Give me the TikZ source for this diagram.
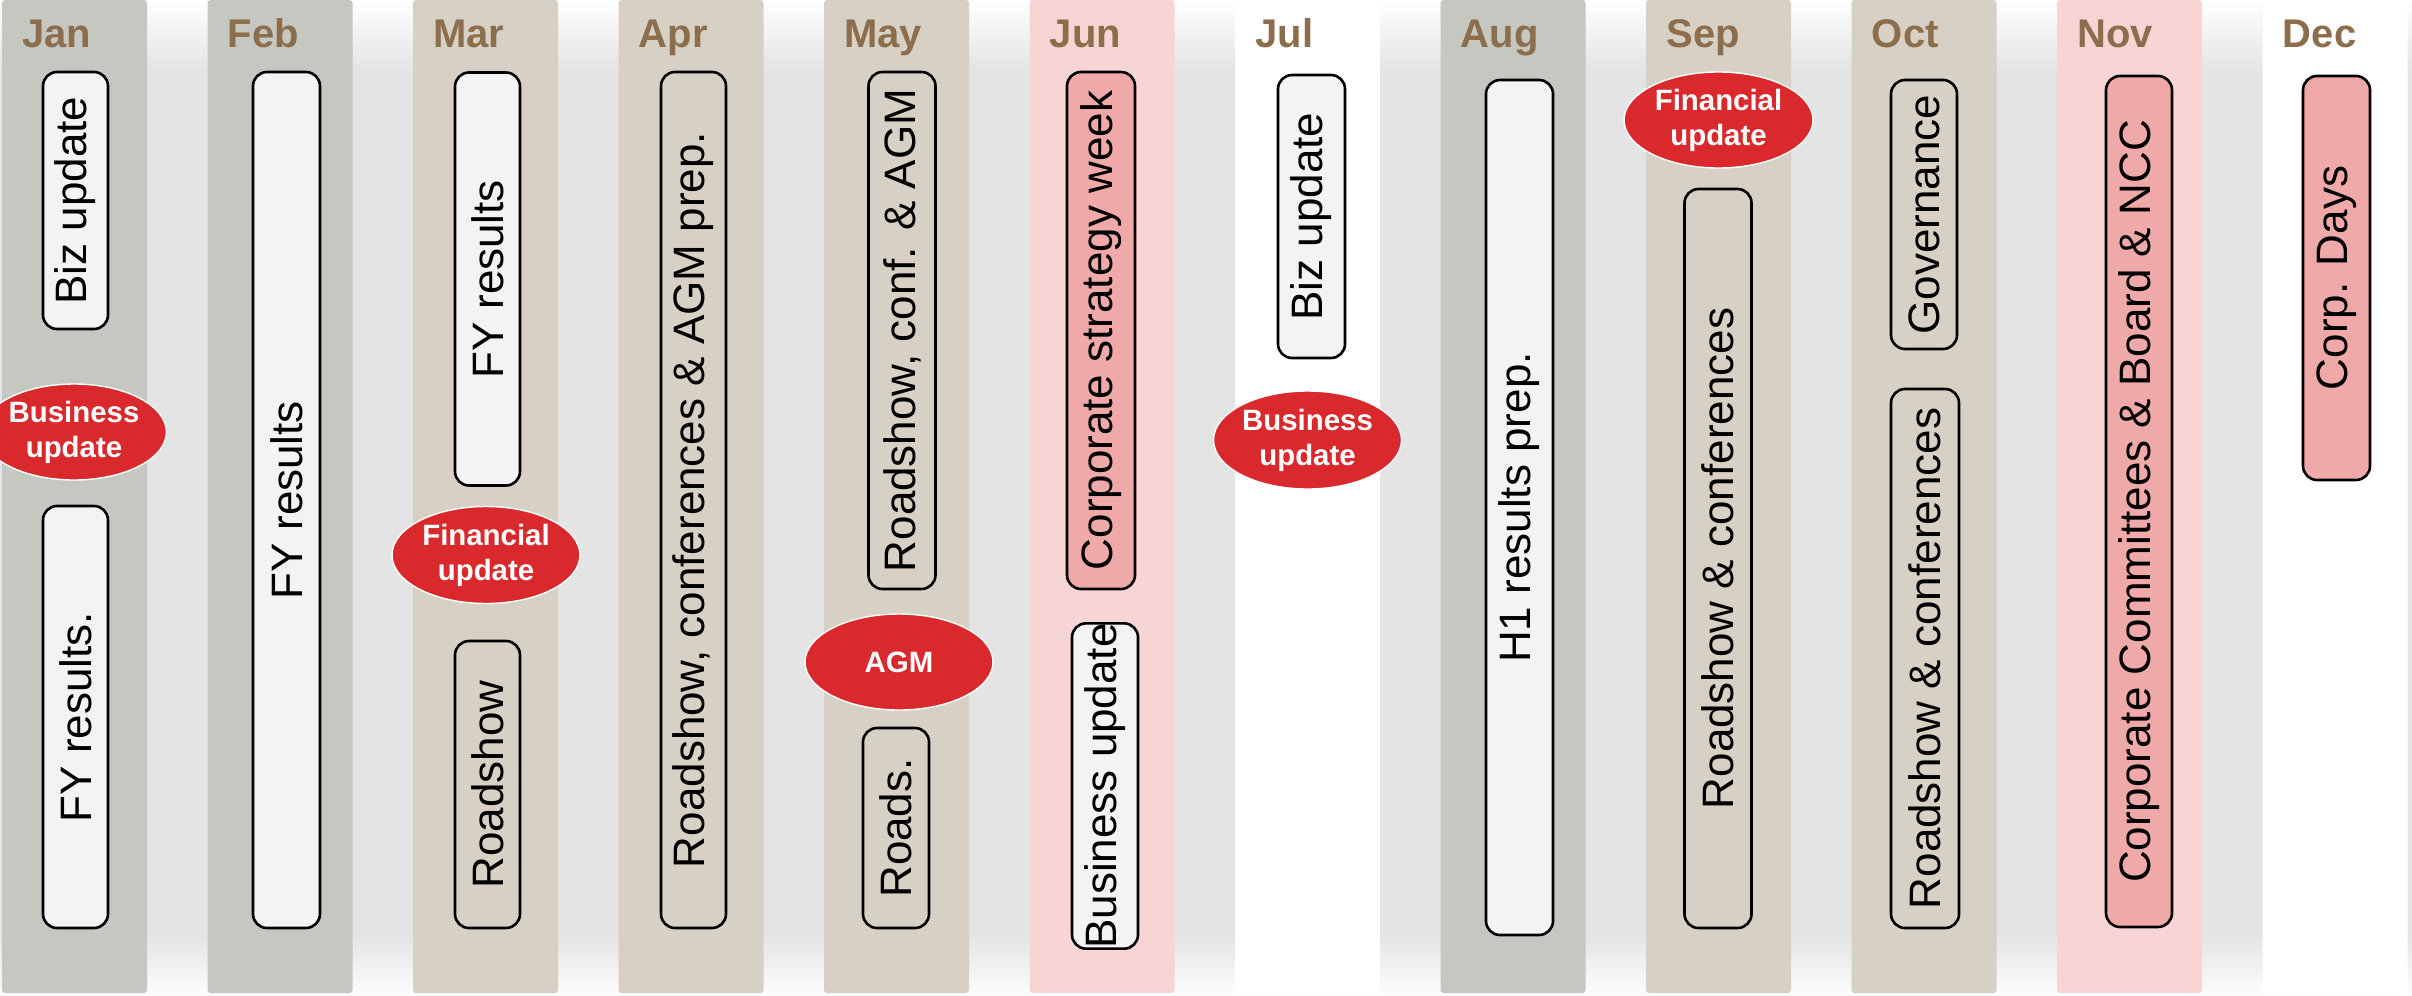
\documentclass[tikz,border=0pt]{standalone}
\usepackage{fontspec}
\setmainfont{Liberation Sans}
\usetikzlibrary{shapes.geometric}
\definecolor{colgray}{HTML}{C5C7C1}
\definecolor{colbeige}{HTML}{D7D0C4}
\definecolor{colpink}{HTML}{F7D5D5}
\definecolor{colwhite}{HTML}{FFFFFF}
\definecolor{monthbrown}{HTML}{8C6D4C}
\definecolor{boxlight}{HTML}{F3F3F3}
\definecolor{boxpink}{HTML}{F0A9A9}
\definecolor{evred}{HTML}{D9292C}
\definecolor{gapgray}{HTML}{E4E4E4}
\begin{document}
\begin{tikzpicture}[x=0.5pt,y=-0.5pt,
  colbox/.style={rectangle, rounded corners=1.5pt, draw=none, inner sep=0pt,
    minimum width=72.5pt, minimum height=496.5pt},
  month/.style={anchor=base west, inner sep=0pt, text=monthbrown,
    font=\bfseries\fontsize{20}{24}\selectfont},
  evbox/.style={rectangle, draw=black, line width=1.3pt, rounded corners=7pt,
    rotate=90, inner sep=0pt, font=\fontsize{22}{26}\selectfont},
  lightbox/.style={evbox, fill=boxlight},
  clearbox/.style={evbox},
  pinkbox/.style={evbox, fill=boxpink},
  oval/.style={ellipse, fill=evred, draw=white, line width=0.7pt, text=white,
    inner sep=0pt, align=center, minimum width=94pt, minimum height=48.5pt,
    font=\bfseries\fontsize{14.7}{17.5}\selectfont}
]
\useasboundingbox (0,0) rectangle (2412,995);
\fill[white] (0,0) rectangle (2412,995);
% background shadow between columns
\shade[top color=white, bottom color=gapgray] (0,0) rectangle (2412,70);
\fill[gapgray] (0,70) rectangle (2412,935);
\shade[top color=gapgray, bottom color=white!92!gapgray] (0,935) rectangle (2412,995);

% month columns and labels
\foreach \m/\c/\i in {Jan/colgray/0, Feb/colgray/1, Mar/colbeige/2, Apr/colbeige/3,
  May/colbeige/4, Jun/colpink/5, Jul/colwhite/6, Aug/colgray/7, Sep/colbeige/8,
  Oct/colbeige/9, Nov/colpink/10, Dec/colwhite/11}{
  \node[colbox, fill=\c] (col\m) at ({74.5+205.5*\i},496.5) {};
  \node[month] (lab\m) at ({22+205.5*\i},48) {\m};
}

% event boxes
\node[lightbox, minimum width=128.5pt, minimum height=32.5pt] (janBiz) at (75.5,200.5) {Biz update};
\node[lightbox, minimum width=211pt, minimum height=32.5pt] (janFY) at (75.5,717) {FY results.};
\node[lightbox, minimum width=428pt, minimum height=33.5pt] (febFY) at (286.5,500) {FY results};
\node[lightbox, minimum width=206.5pt, minimum height=32.5pt] (marFY) at (487.5,279) {FY results};
\node[clearbox, minimum width=143.5pt, minimum height=32.5pt] (marRS) at (487.5,784.5) {Roadshow};
\node[clearbox, minimum width=428pt, minimum height=32.5pt] (aprRS) at (693.5,500) {Roadshow, conferences \& AGM prep.};
\node[clearbox, minimum width=258.5pt, minimum height=33.5pt] (mayRS) at (902,330.5) {Roadshow, conf. \& AGM};
\node[clearbox, minimum width=100pt, minimum height=33pt] (mayRoads) at (896,828) {Roads.};
\node[pinkbox, minimum width=258.5pt, minimum height=34pt] (junCSW) at (1101,330.5) {Corporate strategy week};
\node[lightbox, minimum width=162pt, minimum height=33pt] (junBU) at (1105,786) {Business update};
\node[lightbox, minimum width=141.5pt, minimum height=33.5pt] (julBiz) at (1311.5,216.5) {Biz update};
\node[lightbox, minimum width=427.5pt, minimum height=33.5pt] (augH1) at (1519.5,507.5) {H1 results prep.};
\node[clearbox, minimum width=369.5pt, minimum height=33.5pt] (sepRC) at (1718,558.5) {Roadshow \& conferences};
\node[clearbox, minimum width=134.5pt, minimum height=33pt] (octGov) at (1924,214.5) {Governance};
\node[clearbox, minimum width=269.5pt, minimum height=34pt] (octRC) at (1925,658.5) {Roadshow \& conferences};
\node[pinkbox, minimum width=425.5pt, minimum height=33pt] (novCC) at (2139,501.5) {Corporate Committees \& Board \& NCC};
\node[pinkbox, minimum width=202pt, minimum height=33.5pt] (decCD) at (2336.5,278) {Corp. Days};

% milestone ovals
\node[oval, minimum width=92pt, minimum height=48pt] (janOval) at (74,432) {Business\\update};
\node[oval] (marOval) at (486,555) {Financial\\update};
\node[oval, minimum height=48pt] (mayOval) at (899,662) {AGM};
\node[oval, minimum height=49pt] (julOval) at (1307.5,440) {Business\\update};
\node[oval, minimum width=94.5pt, minimum height=48pt] (sepOval) at (1718.5,120) {Financial\\update};
\end{tikzpicture}
\end{document}
